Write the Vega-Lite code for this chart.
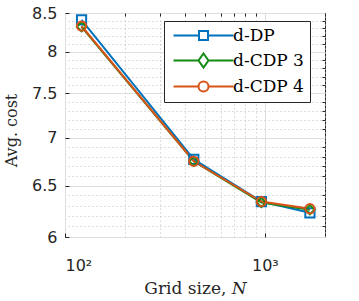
{
  "$schema": "https://vega.github.io/schema/vega-lite/v6.json",
  "width": 260,
  "height": 224,
  "autosize": {"type": "none"},
  "padding": {"left": 65, "top": 13, "right": 34, "bottom": 64},
  "background": "white",
  "config": {
    "view": {"stroke": "#262626", "strokeWidth": 1},
    "legend": {
      "orient": "none",
      "legendX": 99,
      "legendY": 8,
      "padding": 6,
      "symbolSize": 100,
      "symbolStrokeWidth": 2,
      "symbolOffset": 25,
      "labelOffset": 21,
      "labelFont": "DejaVu Serif",
      "labelFontSize": 17,
      "labelColor": "#000000",
      "strokeColor": "#262626",
      "fillColor": "white",
      "rowPadding": 5,
      "cornerRadius": 0
    }
  },
  "data": {
    "values": [
      {"series": "d-DP", "N": 121, "cost": 8.41},
      {"series": "d-DP", "N": 441, "cost": 6.77},
      {"series": "d-DP", "N": 961, "cost": 6.34},
      {"series": "d-DP", "N": 1681, "cost": 6.23},
      {"series": "d-CDP 3", "N": 121, "cost": 8.32},
      {"series": "d-CDP 3", "N": 441, "cost": 6.75},
      {"series": "d-CDP 3", "N": 961, "cost": 6.33},
      {"series": "d-CDP 3", "N": 1681, "cost": 6.26},
      {"series": "d-CDP 4", "N": 121, "cost": 8.33},
      {"series": "d-CDP 4", "N": 441, "cost": 6.75},
      {"series": "d-CDP 4", "N": 961, "cost": 6.34},
      {"series": "d-CDP 4", "N": 1681, "cost": 6.27}
    ]
  },
  "layer": [
    {
      "mark": {"type": "point", "opacity": 0},
      "encoding": {
        "x": {
          "field": "N", "type": "quantitative",
          "scale": {"type": "log", "domain": [100, 2000]},
          "axis": {
            "orient": "top", "values": [200, 300, 400, 500, 600, 700, 800, 900, 2000],
            "labels": false, "domain": false, "title": null,
            "grid": true, "gridColor": "#bdbdbd", "gridDash": [1, 3], "gridWidth": 1,
            "ticks": true, "tickSize": -3, "tickColor": "#262626"
          }
        },
        "y": {
          "field": "cost", "type": "quantitative",
          "scale": {"type": "log", "domain": [6, 8.5]},
          "axis": {
            "orient": "right",
            "values": [6.1, 6.2, 6.3, 6.4, 6.6, 6.7, 6.8, 6.9, 7.1, 7.2, 7.3, 7.4, 7.6, 7.7, 7.8, 7.9, 8.1, 8.2, 8.3, 8.4],
            "labels": false, "domain": false, "title": null,
            "grid": true, "gridColor": "#bdbdbd", "gridDash": [1, 3], "gridWidth": 1,
            "ticks": true, "tickSize": -3, "tickColor": "#262626"
          }
        }
      }
    },
    {
      "mark": {"type": "line", "strokeWidth": 2},
      "encoding": {
        "x": {
          "field": "N", "type": "quantitative",
          "scale": {"type": "log", "domain": [100, 2000]},
          "axis": {
            "orient": "bottom", "values": [100, 1000],
            "labelExpr": "datum.value == 100 ? '10²' : '10³'",
            "grid": true, "gridColor": "#dedede", "gridWidth": 1,
            "ticks": true, "tickSize": -4, "tickColor": "#262626",
            "domain": false,
            "labelFont": "DejaVu Sans", "labelFontSize": 16, "labelColor": "#262626",
            "labelPadding": 24,
            "title": "Grid size, 𝑁",
            "titleFont": "DejaVu Serif", "titleFontSize": 17, "titleFontWeight": "normal",
            "titleColor": "#262626", "titleY": 56, "titleBaseline": "alphabetic"
          }
        },
        "y": {
          "field": "cost", "type": "quantitative",
          "scale": {"type": "log", "domain": [6, 8.5]},
          "axis": {
            "orient": "left", "values": [6, 6.5, 7, 7.5, 8, 8.5], "format": "~g",
            "grid": true, "gridColor": "#dedede", "gridWidth": 1,
            "ticks": true, "tickSize": -4, "tickColor": "#262626",
            "domain": false,
            "labelFont": "DejaVu Sans", "labelFontSize": 16, "labelColor": "#262626",
            "labelPadding": 12, "labelBaseline": "middle",
            "title": "Avg. cost",
            "titleFont": "DejaVu Serif", "titleFontSize": 16, "titleFontWeight": "normal",
            "titleColor": "#262626", "titleX": -54, "titleY": 117,
            "titleAngle": -90, "titleAlign": "center", "titleBaseline": "middle"
          }
        },
        "color": {
          "field": "series", "type": "nominal",
          "scale": {"domain": ["d-DP", "d-CDP 3", "d-CDP 4"], "range": ["#0072BD", "#138a13", "#D95319"]},
          "legend": null
        }
      }
    },
    {
      "mark": {"type": "point", "filled": false, "strokeWidth": 2, "size": 85, "opacity": 1},
      "encoding": {
        "x": {"field": "N", "type": "quantitative", "scale": {"type": "log", "domain": [100, 2000]}, "axis": null},
        "y": {"field": "cost", "type": "quantitative", "scale": {"type": "log", "domain": [6, 8.5]}, "axis": null},
        "color": {
          "field": "series", "type": "nominal",
          "scale": {"domain": ["d-DP", "d-CDP 3", "d-CDP 4"], "range": ["#0072BD", "#138a13", "#D95319"]},
          "legend": null
        },
        "shape": {
          "field": "series", "type": "nominal",
          "scale": {"domain": ["d-DP", "d-CDP 3", "d-CDP 4"], "range": ["square", "diamond", "circle"]},
          "legend": null
        }
      }
    },
    {
      "mark": {"type": "point", "filled": false, "strokeWidth": 2, "opacity": 0},
      "encoding": {
        "x": {"field": "N", "type": "quantitative", "scale": {"type": "log", "domain": [100, 2000]}, "axis": null},
        "y": {"field": "cost", "type": "quantitative", "scale": {"type": "log", "domain": [6, 8.5]}, "axis": null},
        "color": {
          "field": "series", "type": "nominal",
          "scale": {"domain": ["d-DP", "d-CDP 3", "d-CDP 4"], "range": ["#0072BD", "#138a13", "#D95319"]},
          "legend": {"title": null}
        },
        "shape": {
          "field": "series", "type": "nominal",
          "scale": {
            "domain": ["d-DP", "d-CDP 3", "d-CDP 4"],
            "range": [
              "M-6,0H-0.9M0.9,0H6M-0.9,-0.9H0.9V0.9H-0.9Z",
              "M-6,0H-1M1,0H6M0,-1.4L1,0L0,1.4L-1,0Z",
              "M-6,0H-1M1,0H6M1,0A1,1,0,1,1,-1,0A1,1,0,1,1,1,0Z"
            ]
          },
          "legend": {"title": null}
        }
      }
    }
  ],
  "resolve": {
    "scale": {"color": "independent", "shape": "independent"},
    "axis": {"x": "independent", "y": "independent"}
  }
}
